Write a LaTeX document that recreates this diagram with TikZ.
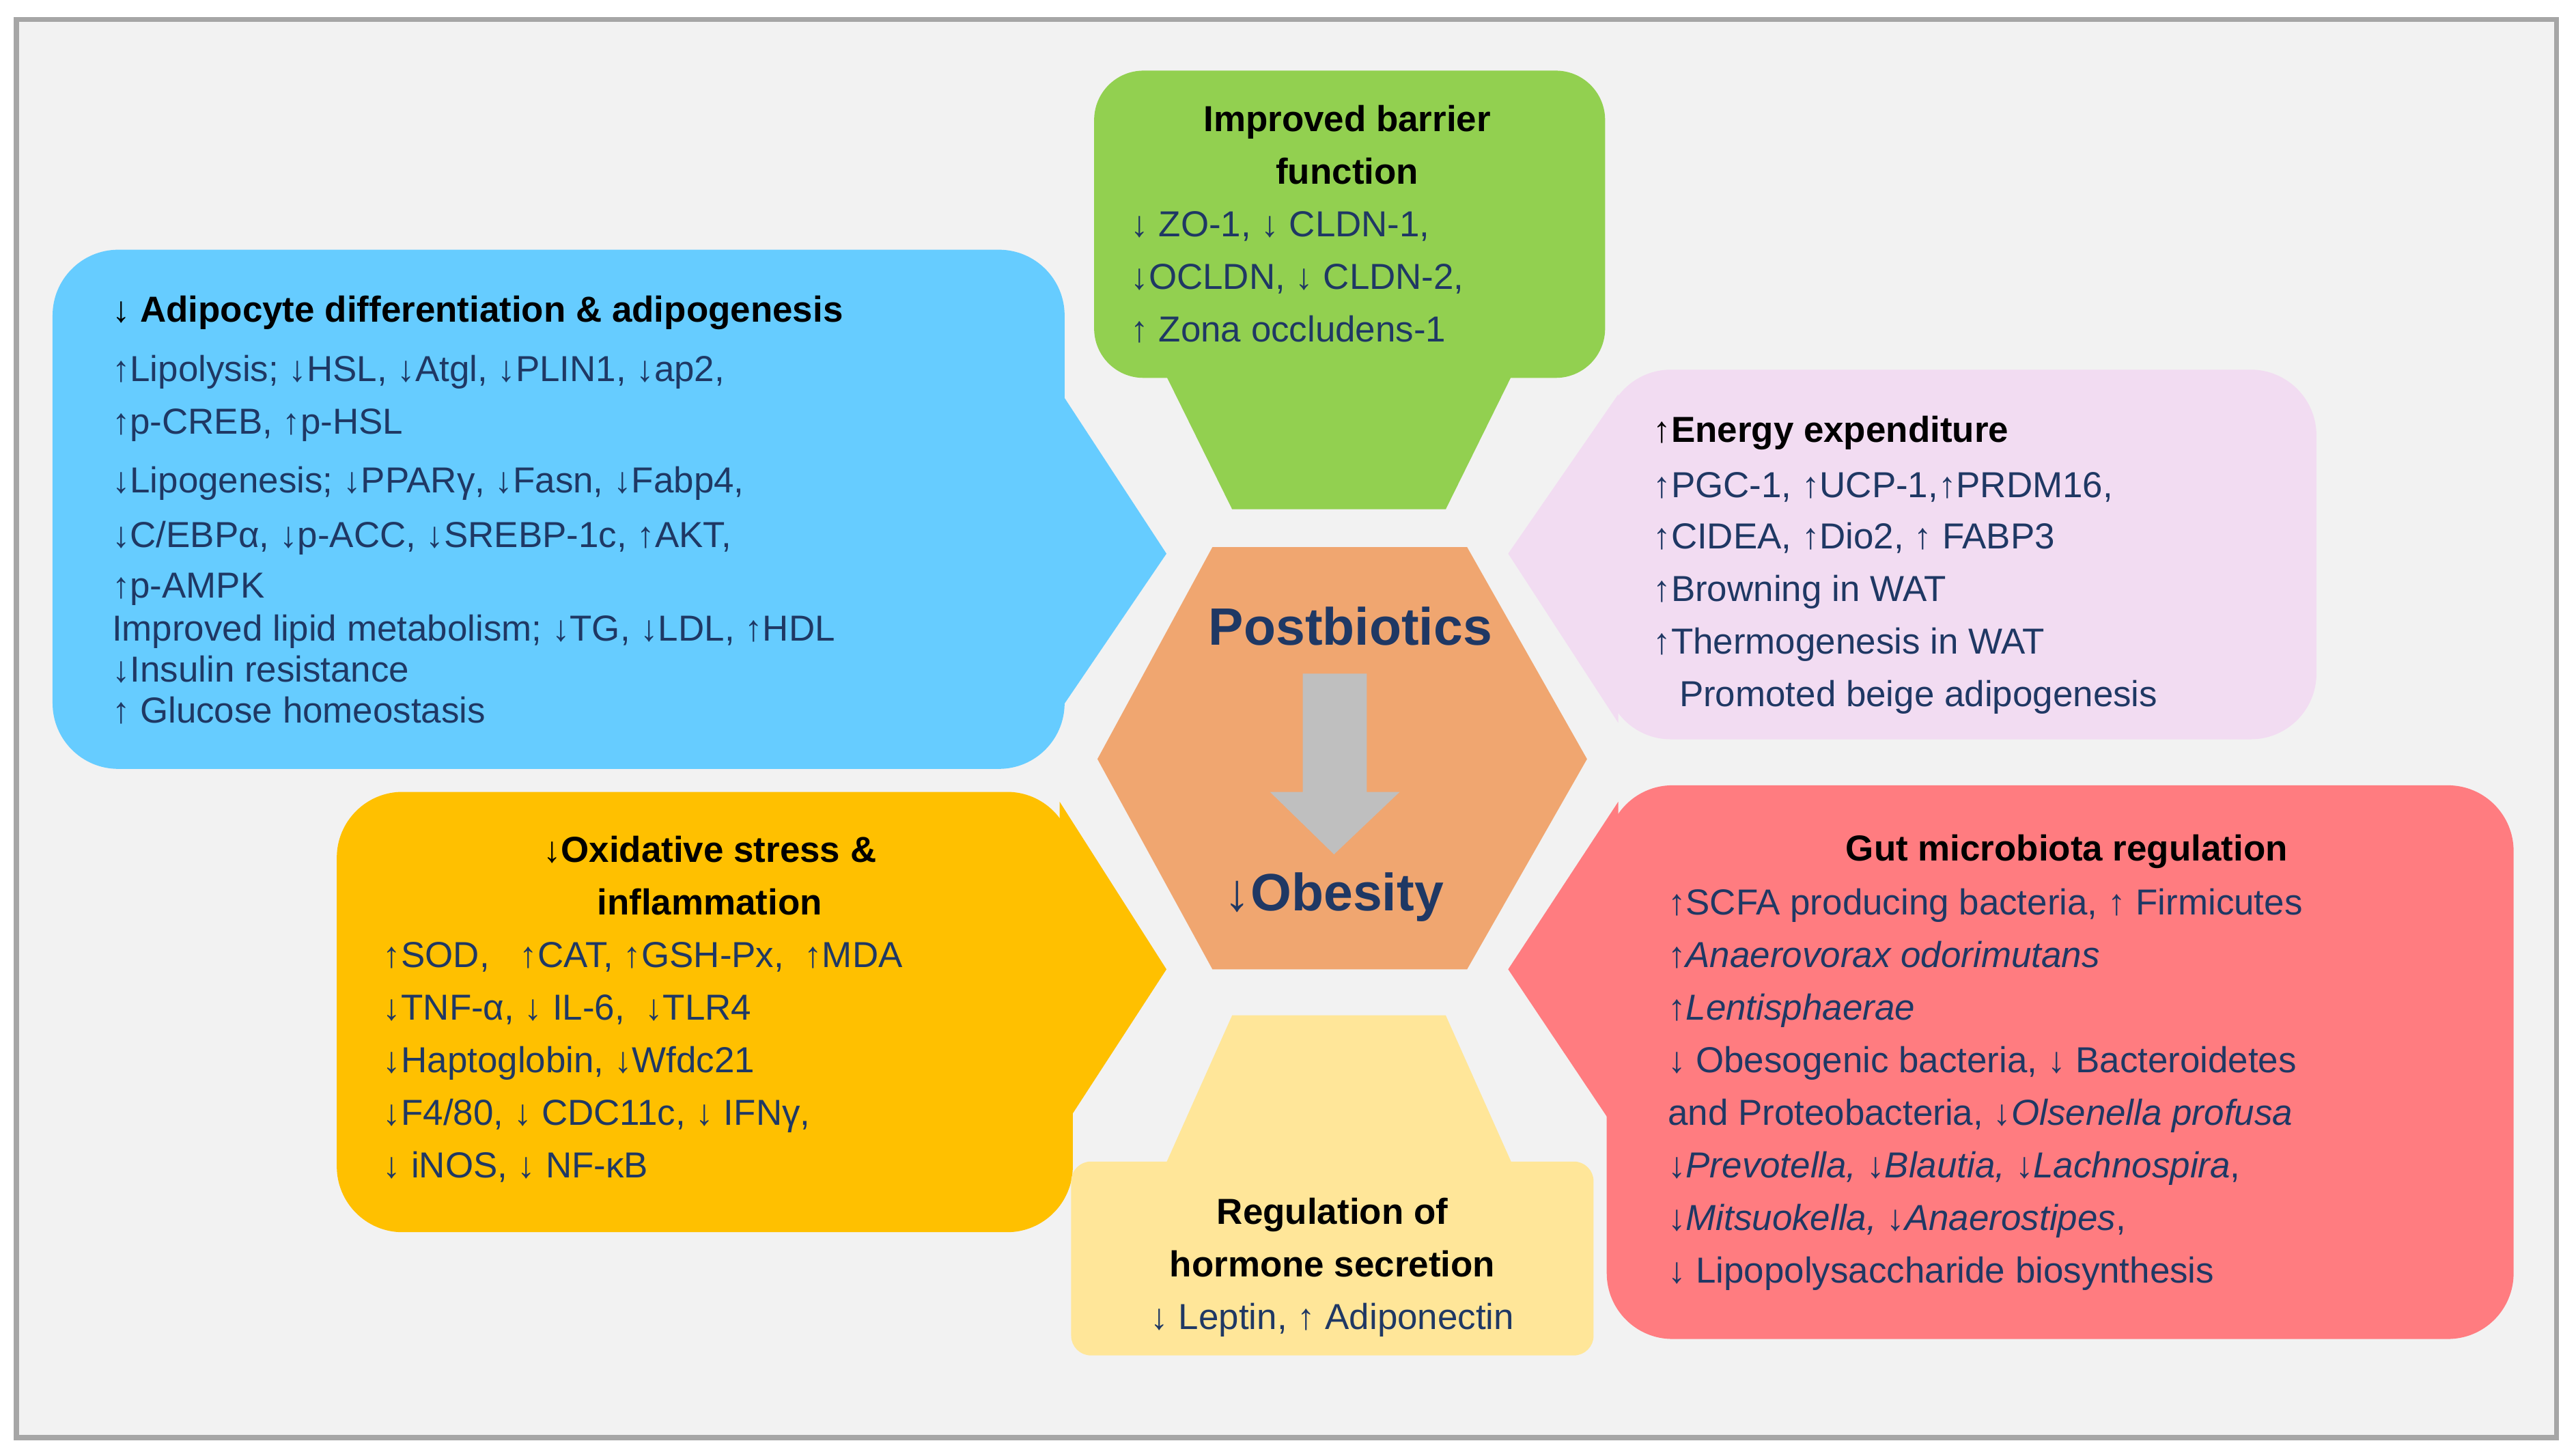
\documentclass[tikz,border=0pt]{standalone}
\usepackage{fontspec}
\setmainfont{Liberation Sans}
\begin{document}
\definecolor{navy}{HTML}{1F3864}
\definecolor{gbox}{HTML}{92D050}
\definecolor{bbox}{HTML}{66CCFF}
\definecolor{pbox}{HTML}{F2DCF2}
\definecolor{ybox}{HTML}{FFC000}
\definecolor{rbox}{HTML}{FF7C80}
\definecolor{lbox}{HTML}{FFE699}
\definecolor{hexc}{HTML}{F0A670}
\newcommand\myline[4]{\node[txt,anchor=base west] (#1) at (#2,#3+8) {#4};}
\newcommand\mytitle[4]{\node[ttl,anchor=base] (#1) at (#2,#3+8) {#4};}
\begin{tikzpicture}[x=1pt,y=-1pt,
  txt/.style={inner sep=0pt,font=\fontsize{22}{26}\selectfont,text=navy},
  ttl/.style={inner sep=0pt,font=\fontsize{22}{26}\selectfont\bfseries,text=black},
  box/.style={rounded corners=40pt,draw=none}]
\useasboundingbox (0,0) rectangle (1568,885);
\fill[white] (0,0) rectangle (1568,885);
\draw[line width=3pt,draw=black!35,fill=black!5] (10,12) rectangle (1556,875);
% hexagon
\fill[hexc] (668,462)--(738,333)--(893,333)--(966,462)--(893,590)--(738,590)--cycle;
% pointers
\fill[gbox] (708,225)--(922,225)--(880,310)--(750,310)--cycle;
\fill[bbox] (640,230)--(710,337)--(640,440)--cycle;
\fill[pbox] (985,240)--(918,337)--(985,440)--cycle;
\fill[ybox] (645,488)--(710,590)--(645,690)--cycle;
\fill[rbox] (985,488)--(918,590)--(985,690)--cycle;
\fill[lbox] (708,712)--(922,712)--(880,618)--(750,618)--cycle;
% boxes
\fill[gbox,box,rounded corners=30pt] (666,43) rectangle (977,230);
\fill[bbox,box] (32,152) rectangle (648,468);
\fill[pbox,box] (977,225) rectangle (1410,450);
\fill[ybox,box] (205,482) rectangle (653,750);
\fill[rbox,box] (978,478) rectangle (1530,815);
\fill[lbox,rounded corners=12pt] (652,707) rectangle (970,825);
% centre
\node[font=\fontsize{32}{36}\selectfont\bfseries,text=navy,inner sep=0pt] (pb) at (822,381) {Postbiotics};
\node[font=\fontsize{32}{36}\selectfont\bfseries,text=navy,inner sep=0pt] (ob) at (812,546) {↓Obesity};
\fill[black!25] (793,410)--(832,410)--(832,482)--(852,482)--(812,520)--(773,482)--(793,482)--cycle;
% green
\mytitle{g1}{820}{72}{Improved barrier}
\mytitle{g2}{820}{104}{function}
\myline{g3}{688}{136}{↓ ZO-1, ↓ CLDN-1,}
\myline{g4}{688}{168}{↓OCLDN, ↓ CLDN-2,}
\myline{g5}{688}{200}{↑ Zona occludens-1}
% blue
\myline{b0}{68}{188}{\textbf{\color{black}↓ Adipocyte differentiation \& adipogenesis}}
\myline{b1}{68}{224}{↑Lipolysis; ↓HSL, ↓Atgl, ↓PLIN1, ↓ap2,}
\myline{b2}{68}{256}{↑p-CREB, ↑p-HSL}
\myline{b3}{68}{292}{↓Lipogenesis; ↓PPARγ, ↓Fasn, ↓Fabp4,}
\myline{b4}{68}{325}{↓C/EBPα, ↓p-ACC, ↓SREBP-1c, ↑AKT,}
\myline{b5}{68}{356}{↑p-AMPK}
\myline{b6}{68}{382}{Improved lipid metabolism; ↓TG, ↓LDL, ↑HDL}
\myline{b7}{68}{407}{↓Insulin resistance}
\myline{b8}{68}{432}{↑ Glucose homeostasis}
% pink
\myline{p0}{1006}{261}{\textbf{\color{black}↑Energy expenditure}}
\myline{p1}{1006}{295}{↑PGC-1, ↑UCP-1,↑PRDM16,}
\myline{p2}{1006}{326}{↑CIDEA, ↑Dio2, ↑ FABP3}
\myline{p3}{1006}{358}{↑Browning in WAT}
\myline{p4}{1006}{390}{↑Thermogenesis in WAT}
\myline{p5}{1022}{422}{Promoted beige adipogenesis}
% yellow
\mytitle{y0}{432}{517}{↓Oxidative stress \&}
\mytitle{y0b}{432}{549}{inflammation}
\myline{y1}{233}{581}{↑SOD,\ \ \ ↑CAT, ↑GSH-Px,\ \ ↑MDA}
\myline{y2}{233}{613}{↓TNF-α, ↓ IL-6,\ \ ↓TLR4}
\myline{y3}{233}{645}{↓Haptoglobin, ↓Wfdc21}
\myline{y4}{233}{677}{↓F4/80, ↓ CDC11c, ↓ IFNγ,}
\myline{y5}{233}{709}{↓ iNOS, ↓ NF-κB}
% red
\mytitle{r0}{1258}{516}{Gut microbiota regulation}
\myline{r1}{1015}{549}{↑SCFA producing bacteria, ↑ Firmicutes}
\myline{r2}{1015}{581}{↑\textit{Anaerovorax odorimutans}}
\myline{r3}{1015}{613}{↑\textit{Lentisphaerae}}
\myline{r4}{1015}{645}{↓ Obesogenic bacteria, ↓ Bacteroidetes}
\myline{r5}{1015}{677}{and Proteobacteria, ↓\textit{Olsenella profusa}}
\myline{r6}{1015}{709}{↓\textit{Prevotella,} ↓\textit{Blautia,} ↓\textit{Lachnospira},}
\myline{r7}{1015}{741}{↓\textit{Mitsuokella,} ↓\textit{Anaerostipes},}
\myline{r8}{1015}{773}{↓ Lipopolysaccharide biosynthesis}
% bottom
\mytitle{l0}{811}{737}{Regulation of}
\mytitle{l1}{811}{769}{hormone secretion}
\node[txt,anchor=base] (l2) at (811,809) {↓ Leptin, ↑ Adiponectin};
\end{tikzpicture}
\end{document}
